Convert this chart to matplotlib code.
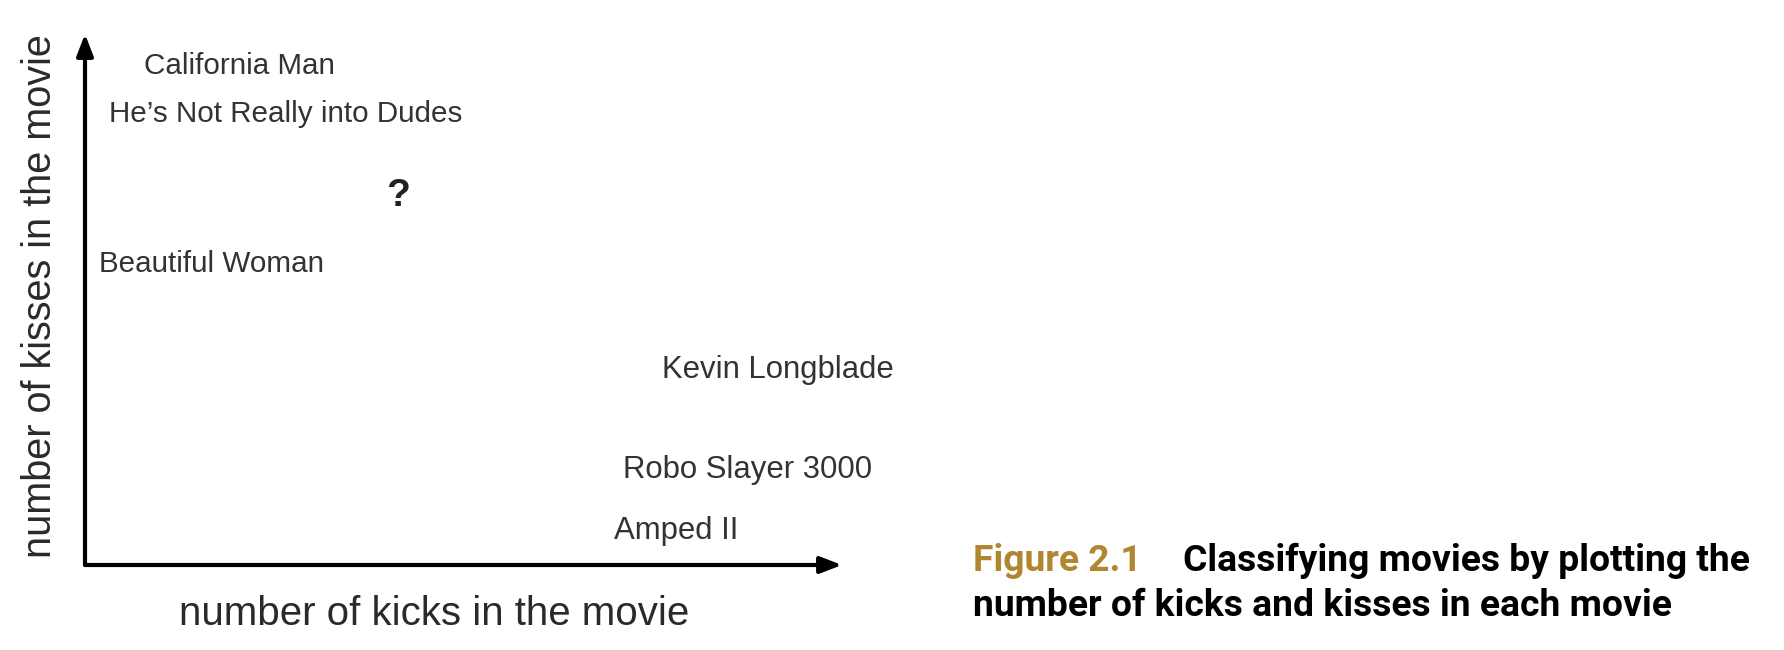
import matplotlib
matplotlib.use("Agg")
import matplotlib.pyplot as plt
from matplotlib import font_manager

# ---- data ----
movies = ["California Man", "He’s Not Really into Dudes", "Beautiful Woman",
          "Kevin Longblade", "Robo Slayer 3000", "Amped II"]
kicks = [7.8, 3.2, 1.8, 76.2, 71.1, 69.9]
kisses = [94.0, 84.9, 56.7, 36.7, 17.9, 6.4]
unknown_kicks = [41.3]
unknown_kisses = [69.5]
xlabel = "number of kicks in the movie"
ylabel = "number of kisses in the movie"
fig_label = "Figure 2.1"
caption_1 = "Classifying movies by plotting the"
caption_2 = "number of kicks and kisses in each movie"

names = {f.name for f in font_manager.fontManager.ttflist}
sans = "Liberation Sans" if "Liberation Sans" in names else "DejaVu Sans"
narrow = "Liberation Sans Narrow" if "Liberation Sans Narrow" in names else "Roboto"

fig = plt.figure(figsize=(17.84, 6.5), dpi=100)
ax = fig.add_axes([85/1784, 85/650, 757/1784, 531/650])
ax.set_xlim(0, 100)
ax.set_ylim(0, 100)
ax.axis("off")

arrow = dict(arrowstyle="-|>,head_length=1.3,head_width=0.5", lw=3, color="black",
             shrinkA=0, shrinkB=0)
ax.annotate("", xy=(100, 0), xytext=(0, 0), arrowprops=arrow, annotation_clip=False)
ax.annotate("", xy=(0, 100), xytext=(0, 0), arrowprops=arrow, annotation_clip=False)

for name, x, y in zip(movies, kicks, kisses):
    size = 21.3 if x < 50 else 22.4
    ax.text(x, y, name, ha="left", va="center", fontsize=size,
            family=sans, color="#333333")
for x, y in zip(unknown_kicks, unknown_kisses):
    ax.text(x, y, "?", ha="center", va="center", fontsize=28, fontweight="bold",
            family=sans, color="#222222")

fig.text(434/1784, 1 - 614/650, xlabel, ha="center", va="center", fontsize=29,
         family=sans, color="#2a2a2a")
fig.text(40/1784, 1 - 296/650, ylabel, ha="center", va="center", rotation=90,
         fontsize=28.5, family=sans, color="#2a2a2a")

fig.text(973/1784, 1 - 561/650, fig_label, ha="left", va="center", fontsize=26.8,
         family=narrow, fontweight="bold", color="#B0862E")
fig.text(1183/1784, 1 - 561/650, caption_1, ha="left", va="center", fontsize=26.8,
         family=narrow, fontweight="bold", color="black")
fig.text(973/1784, 1 - 606/650, caption_2, ha="left", va="center", fontsize=26.8,
         family=narrow, fontweight="bold", color="black")

fig.savefig("out.png", dpi=100, facecolor="white")
